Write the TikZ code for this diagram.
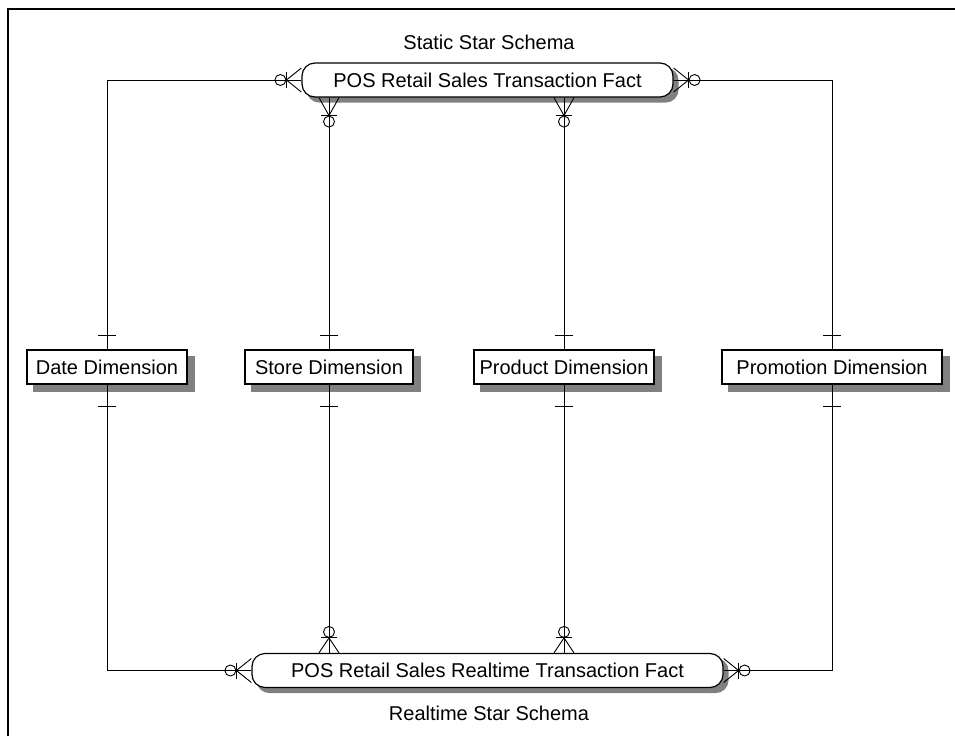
\documentclass[tikz,border=0pt]{standalone}
\usepackage{fontspec}
\setmainfont{Liberation Sans}
\pgfdeclarelayer{shadowlayer}
\pgfdeclarelayer{connlayer}
\pgfsetlayers{shadowlayer,connlayer,main}
\definecolor{shadowgray}{gray}{0.5}
\tikzset{
  dimbox/.style={draw, fill=white, line width=1.2pt, minimum height=34pt, inner sep=0pt, font=\fontsize{20}{24}\selectfont},
  factbox/.style={draw, fill=white, line width=1.2pt, rounded corners=13pt, minimum height=34pt, inner sep=0pt, font=\fontsize{20}{24}\selectfont},
  caption/.style={font=\fontsize{20}{24}\selectfont, inner sep=0pt},
  conn/.style={line width=0.9pt},
  shadowfill/.style={fill=shadowgray}
}
% crow's foot with bar and circle: #1 anchor, #2 angle, #3 length, #4 half spread
\newcommand\crowmark[4]{%
  \begin{scope}[shift={(#1)}, rotate=#2, conn]
    \draw (0,-#4) -- (#3,0) -- (0,#4);
    \draw (0,0) -- (#3,0);
    \draw (#3,-8) -- (#3,8);
    \draw ({#3+6},0) circle[radius=5.5];
  \end{scope}}
\begin{document}
\begin{tikzpicture}[x=1pt, y=-1pt]
  \useasboundingbox (0,0) rectangle (955,736);
  % frame
  \draw[line width=1.4pt] (8,736) -- (8,9) -- (955,9);

  % nodes
  \node[factbox, minimum width=371pt] (topfact) at (487.5,80) {POS Retail Sales Transaction Fact};
  \node[factbox, minimum width=471pt] (botfact) at (487.5,670.5) {POS Retail Sales Realtime Transaction Fact};
  \node[dimbox, minimum width=160pt] (date) at (107,367) {Date Dimension};
  \node[dimbox, minimum width=168pt] (store) at (329,367) {Store Dimension};
  \node[dimbox, minimum width=180pt] (product) at (564,367) {Product Dimension};
  \node[dimbox, minimum width=220pt] (promo) at (832,367) {Promotion Dimension};

  \node[caption] (toplabel) at (489,42) {Static Star Schema};
  \node[caption] (botlabel) at (489,713) {Realtime Star Schema};

  % shadows
  \begin{pgfonlayer}{shadowlayer}
    \foreach \n in {date,store,product,promo}{
      \fill[shadowfill] ([shift={(7,7)}]\n.south west) rectangle ([shift={(7,7)}]\n.north east);
    }
    \foreach \n in {topfact,botfact}{
      \fill[shadowfill, rounded corners=13pt] ([shift={(5,5)}]\n.south west) rectangle ([shift={(5,5)}]\n.north east);
    }
  \end{pgfonlayer}

  % connectors
  \begin{pgfonlayer}{connlayer}
    \draw[conn] (date.north) |- (topfact.west);
    \draw[conn] (promo.north) |- (topfact.east);
    \draw[conn] (store.north) -- (store.north |- topfact.south);
    \draw[conn] (product.north) -- (product.north |- topfact.south);

    \draw[conn] (date.south) |- (botfact.west);
    \draw[conn] (promo.south) |- (botfact.east);
    \draw[conn] (store.south) -- (store.south |- botfact.north);
    \draw[conn] (product.south) -- (product.south |- botfact.north);

    % crow's feet at top fact
    \crowmark{topfact.west}{180}{15}{12}
    \crowmark{topfact.east}{0}{15}{12}
    \crowmark{store.north |- topfact.south}{-90}{18}{10}
    \crowmark{product.north |- topfact.south}{-90}{18}{10}
    % crow's feet at bottom fact
    \crowmark{botfact.west}{180}{15}{12}
    \crowmark{botfact.east}{0}{15}{12}
    \crowmark{store.south |- botfact.north}{90}{15}{10}
    \crowmark{product.south |- botfact.north}{90}{15}{10}

    % one-marks at the dimensions
    \foreach \n in {date,store,product,promo}{
      \draw[conn] ([shift={(-9,-14)}]\n.north) -- ([shift={(9,-14)}]\n.north);
      \draw[conn] ([shift={(-9,22)}]\n.south) -- ([shift={(9,22)}]\n.south);
    }
  \end{pgfonlayer}
\end{tikzpicture}
\end{document}
